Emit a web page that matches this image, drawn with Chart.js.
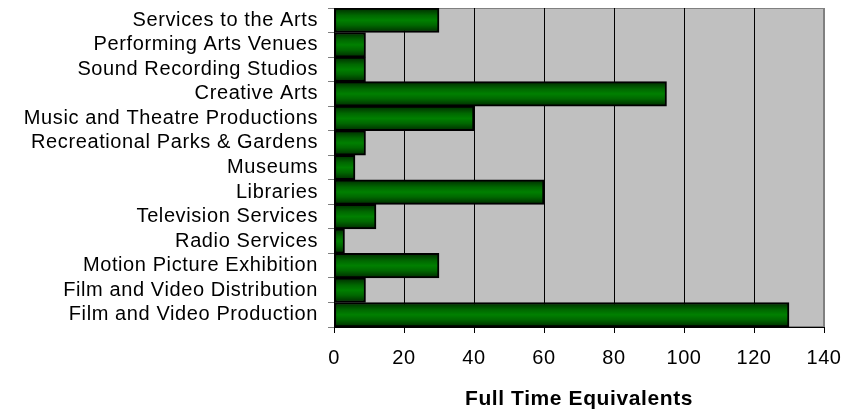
<!DOCTYPE html>
<html>
<head>
<meta charset="utf-8">
<script src="https://cdn.jsdelivr.net/npm/chart.js@4.4.0/dist/chart.umd.min.js"></script>
<style>
  html, body { margin: 0; padding: 0; background: #fff; }
  #wrap { width: 868px; height: 412px; }
</style>
</head>
<body>
<div id="wrap"><canvas id="mychart"></canvas></div>
<script>
// ---- data ----
const categories = [
    'Services to the Arts',
    'Performing Arts Venues',
    'Sound Recording Studios',
    'Creative Arts',
    'Music and Theatre Productions',
    'Recreational Parks & Gardens',
    'Museums',
    'Libraries',
    'Television Services',
    'Radio Services',
    'Motion Picture Exhibition',
    'Film and Video Distribution',
    'Film and Video Production'
];
const fteValues = [30, 9, 9, 95, 40, 9, 6, 60, 12, 3, 30, 9, 130];
const xTicks = [0, 20, 40, 60, 80, 100, 120, 140];
const axisTitle = 'Full Time Equivalents';

/*------ grey plot area + slightly wider text ------*/
const plotBg = {
    id: 'plotBg',
    beforeDraw(chart) {
        const a = chart.chartArea;
        const c = chart.ctx;
        c.letterSpacing = '0.6px';
        c.save();
        c.fillStyle = '#c0c0c0';
        c.fillRect(a.left, a.top, a.right - a.left, a.bottom - a.top);
        c.strokeStyle = '#808080';
        c.lineWidth = 1;
        c.strokeRect(a.left + 0.5, a.top + 0.5, a.right - a.left - 1, a.bottom - a.top - 1);
        c.restore();
    }
};

function barGradient(context) {
    const chart = context.chart;
    if (!chart.chartArea) return '#008000';
    const y = chart.scales.y.getPixelForValue(context.dataIndex);
    const h = (chart.chartArea.bottom - chart.chartArea.top) / categories.length;
    const g = chart.ctx.createLinearGradient(0, y - h / 2, 0, y + h / 2);
    g.addColorStop(0, '#002a00');
    g.addColorStop(0.3, '#006800');
    g.addColorStop(0.5, '#008000');
    g.addColorStop(0.7, '#006800');
    g.addColorStop(1, '#002a00');
    return g;
}

const ctx = document.getElementById('mychart').getContext('2d');
const myChart = new Chart(ctx, {
    type: 'bar',
    data: {
        labels: categories,
        datasets: [{
            label: axisTitle,
            data: fteValues,
            backgroundColor: barGradient,
            borderColor: '#000',
            borderWidth: 2,
            borderSkipped: false,
            barPercentage: 1,
            categoryPercentage: 1
        }]
    },
    options: {
        indexAxis: 'y',
        responsive: true,
        maintainAspectRatio: false,
        animation: false,
        layout: { padding: { top: 8, right: 44, left: 0, bottom: 0 } },
        plugins: {
            legend: { display: false },
            tooltip: { enabled: false }
        },
        scales: {
            x: {
                min: 0,
                max: 140,
                afterBuildTicks: s => { s.ticks = xTicks.map(v => ({ value: v })); },
                afterFit: s => { s.height = 85; },
                border: { color: '#000', width: 1 },
                grid: {
                    color: c => (c.tick && c.tick.value === 140) ? '#808080' : '#000',
                    tickLength: 6,
                    tickColor: '#000'
                },
                ticks: {
                    color: '#000',
                    padding: 13,
                    font: { family: 'Liberation Sans', size: 20 }
                },
                title: {
                    display: true,
                    text: axisTitle,
                    color: '#000',
                    padding: { top: 0, bottom: 0 },
                    font: { family: 'Liberation Sans', size: 21, weight: 'bold' }
                }
            },
            y: {
                afterFit: s => {
                    s.width = 334;
                    s.paddingTop = 0;
                    s.paddingBottom = 0;
                },
                border: { color: '#000', width: 1 },
                grid: {
                    drawOnChartArea: false,
                    tickLength: 6,
                    tickColor: '#808080'
                },
                ticks: {
                    color: '#000',
                    padding: 10,
                    autoSkip: false,
                    font: { family: 'Liberation Sans', size: 20 }
                }
            }
        }
    },
    plugins: [plotBg]
});
</script>
</body>
</html>
